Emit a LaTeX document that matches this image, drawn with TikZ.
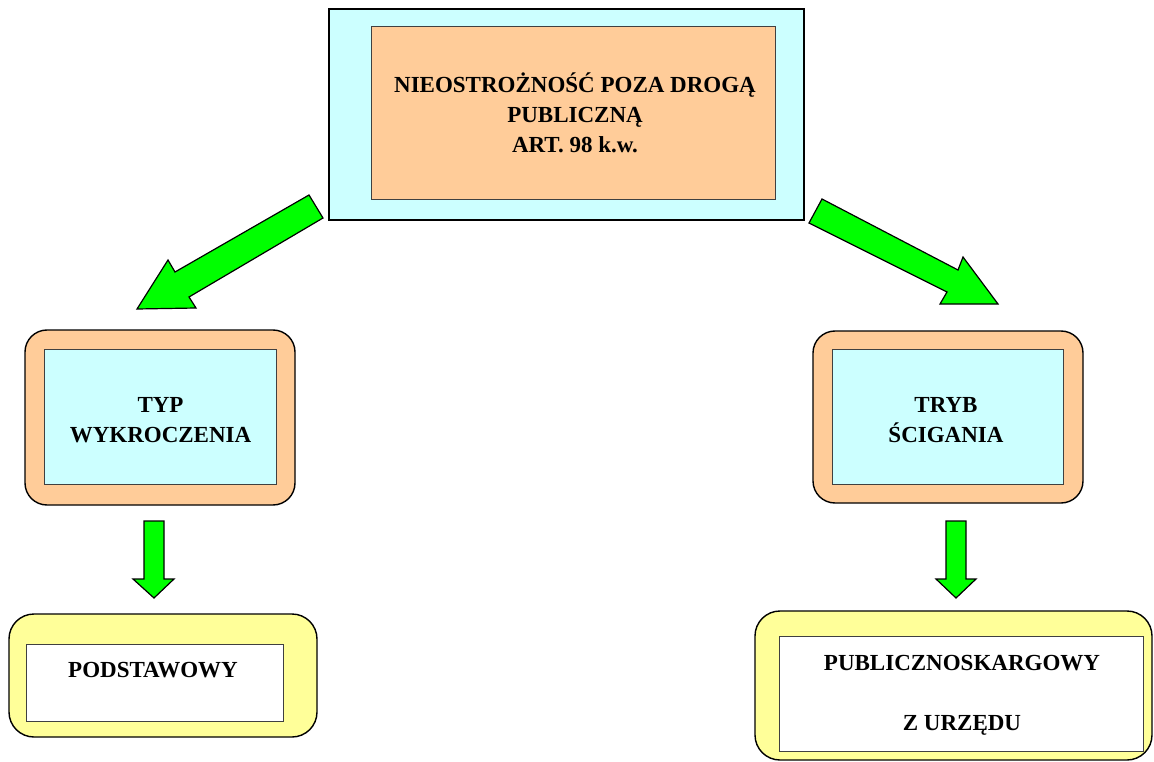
\documentclass[tikz,border=0pt]{standalone}
\usepackage{fontspec}
\setmainfont{Liberation Serif}
\definecolor{cyanbg}{HTML}{CCFFFF}
\definecolor{orangebg}{HTML}{FFCC99}
\definecolor{yellowbg}{HTML}{FFFF99}
\definecolor{arrowgreen}{HTML}{00FF00}
\definecolor{innerline}{HTML}{404040}
\begin{document}
\begin{tikzpicture}[x=1pt,y=-1pt,
  outerbox/.style={draw=black,line width=1.4pt,inner sep=0pt,outer sep=0pt},
  innerbox/.style={draw=innerline,line width=0.9pt,inner sep=0pt,outer sep=0pt},
  roundbox/.style={outerbox,rounded corners=22pt},
  label/.style={font=\bfseries\fontsize{23}{30}\selectfont,align=center,inner sep=0pt},
  blockarrow/.style={draw=black,line width=1.2pt,fill=arrowgreen,line join=miter}]
\useasboundingbox (0,0) rectangle (1154,762);
\fill[white] (0,0) rectangle (1154,762);

% top
\node[outerbox,fill=cyanbg,minimum width=475pt,minimum height=211pt] (topout) at (566.5,114.5) {};
\node[innerbox,fill=orangebg,minimum width=404pt,minimum height=173pt] (topin) at (573,112.5) {};
\node[label] (toptext) at (575,113) {NIEOSTROŻNOŚĆ POZA DROGĄ\\PUBLICZNĄ\\ART. 98 k.w.};

% middle left
\node[roundbox,fill=orangebg,minimum width=270pt,minimum height=175pt] (lmout) at (160,417.5) {};
\node[innerbox,fill=cyanbg,minimum width=232pt,minimum height=135pt] (lmin) at (160,416.5) {};
\node[label] (lmtext) at (160.5,420) {TYP\\WYKROCZENIA};

% middle right
\node[roundbox,fill=orangebg,minimum width=270pt,minimum height=172pt] (rmout) at (948,417) {};
\node[innerbox,fill=cyanbg,minimum width=231pt,minimum height=135pt] (rmin) at (947.5,416.5) {};
\node[label] (rmtext) at (946,420) {TRYB\\ŚCIGANIA};

% bottom left
\node[outerbox,rounded corners=25pt,fill=yellowbg,minimum width=308pt,minimum height=123pt] (lbout) at (163,675.5) {};
\node[innerbox,fill=white,minimum width=257pt,minimum height=77pt] (lbin) at (154.5,682.5) {};
\node[label] (lbtext) at (153,670) {PODSTAWOWY};

% bottom right
\node[outerbox,rounded corners=25pt,fill=yellowbg,minimum width=397pt,minimum height=149pt] (rbout) at (953.5,685.5) {};
\node[innerbox,fill=white,minimum width=364pt,minimum height=115pt] (rbin) at (961,693.5) {};
\node[label] (rbtext1) at (962,663) {PUBLICZNOSKARGOWY};
\node[label] (rbtext2) at (962,725) {Z URZĘDU};

% block arrows
\draw[blockarrow] (309,195) -- (323,218) -- (189,297) -- (196,308) -- (137,309) -- (168,260) -- (175,272) -- cycle;
\draw[blockarrow] (822,199) -- (958,270) -- (963,257) -- (998,304) -- (940,304) -- (947,292) -- (809,223) -- cycle;
\draw[blockarrow] (144,521) -- (164,521) -- (164,579) -- (174,579) -- (154,598) -- (133,579) -- (144,579) -- cycle;
\draw[blockarrow] (946,521) -- (966,521) -- (966,579) -- (976,579) -- (956,598) -- (936,579) -- (946,579) -- cycle;
\end{tikzpicture}
\end{document}
